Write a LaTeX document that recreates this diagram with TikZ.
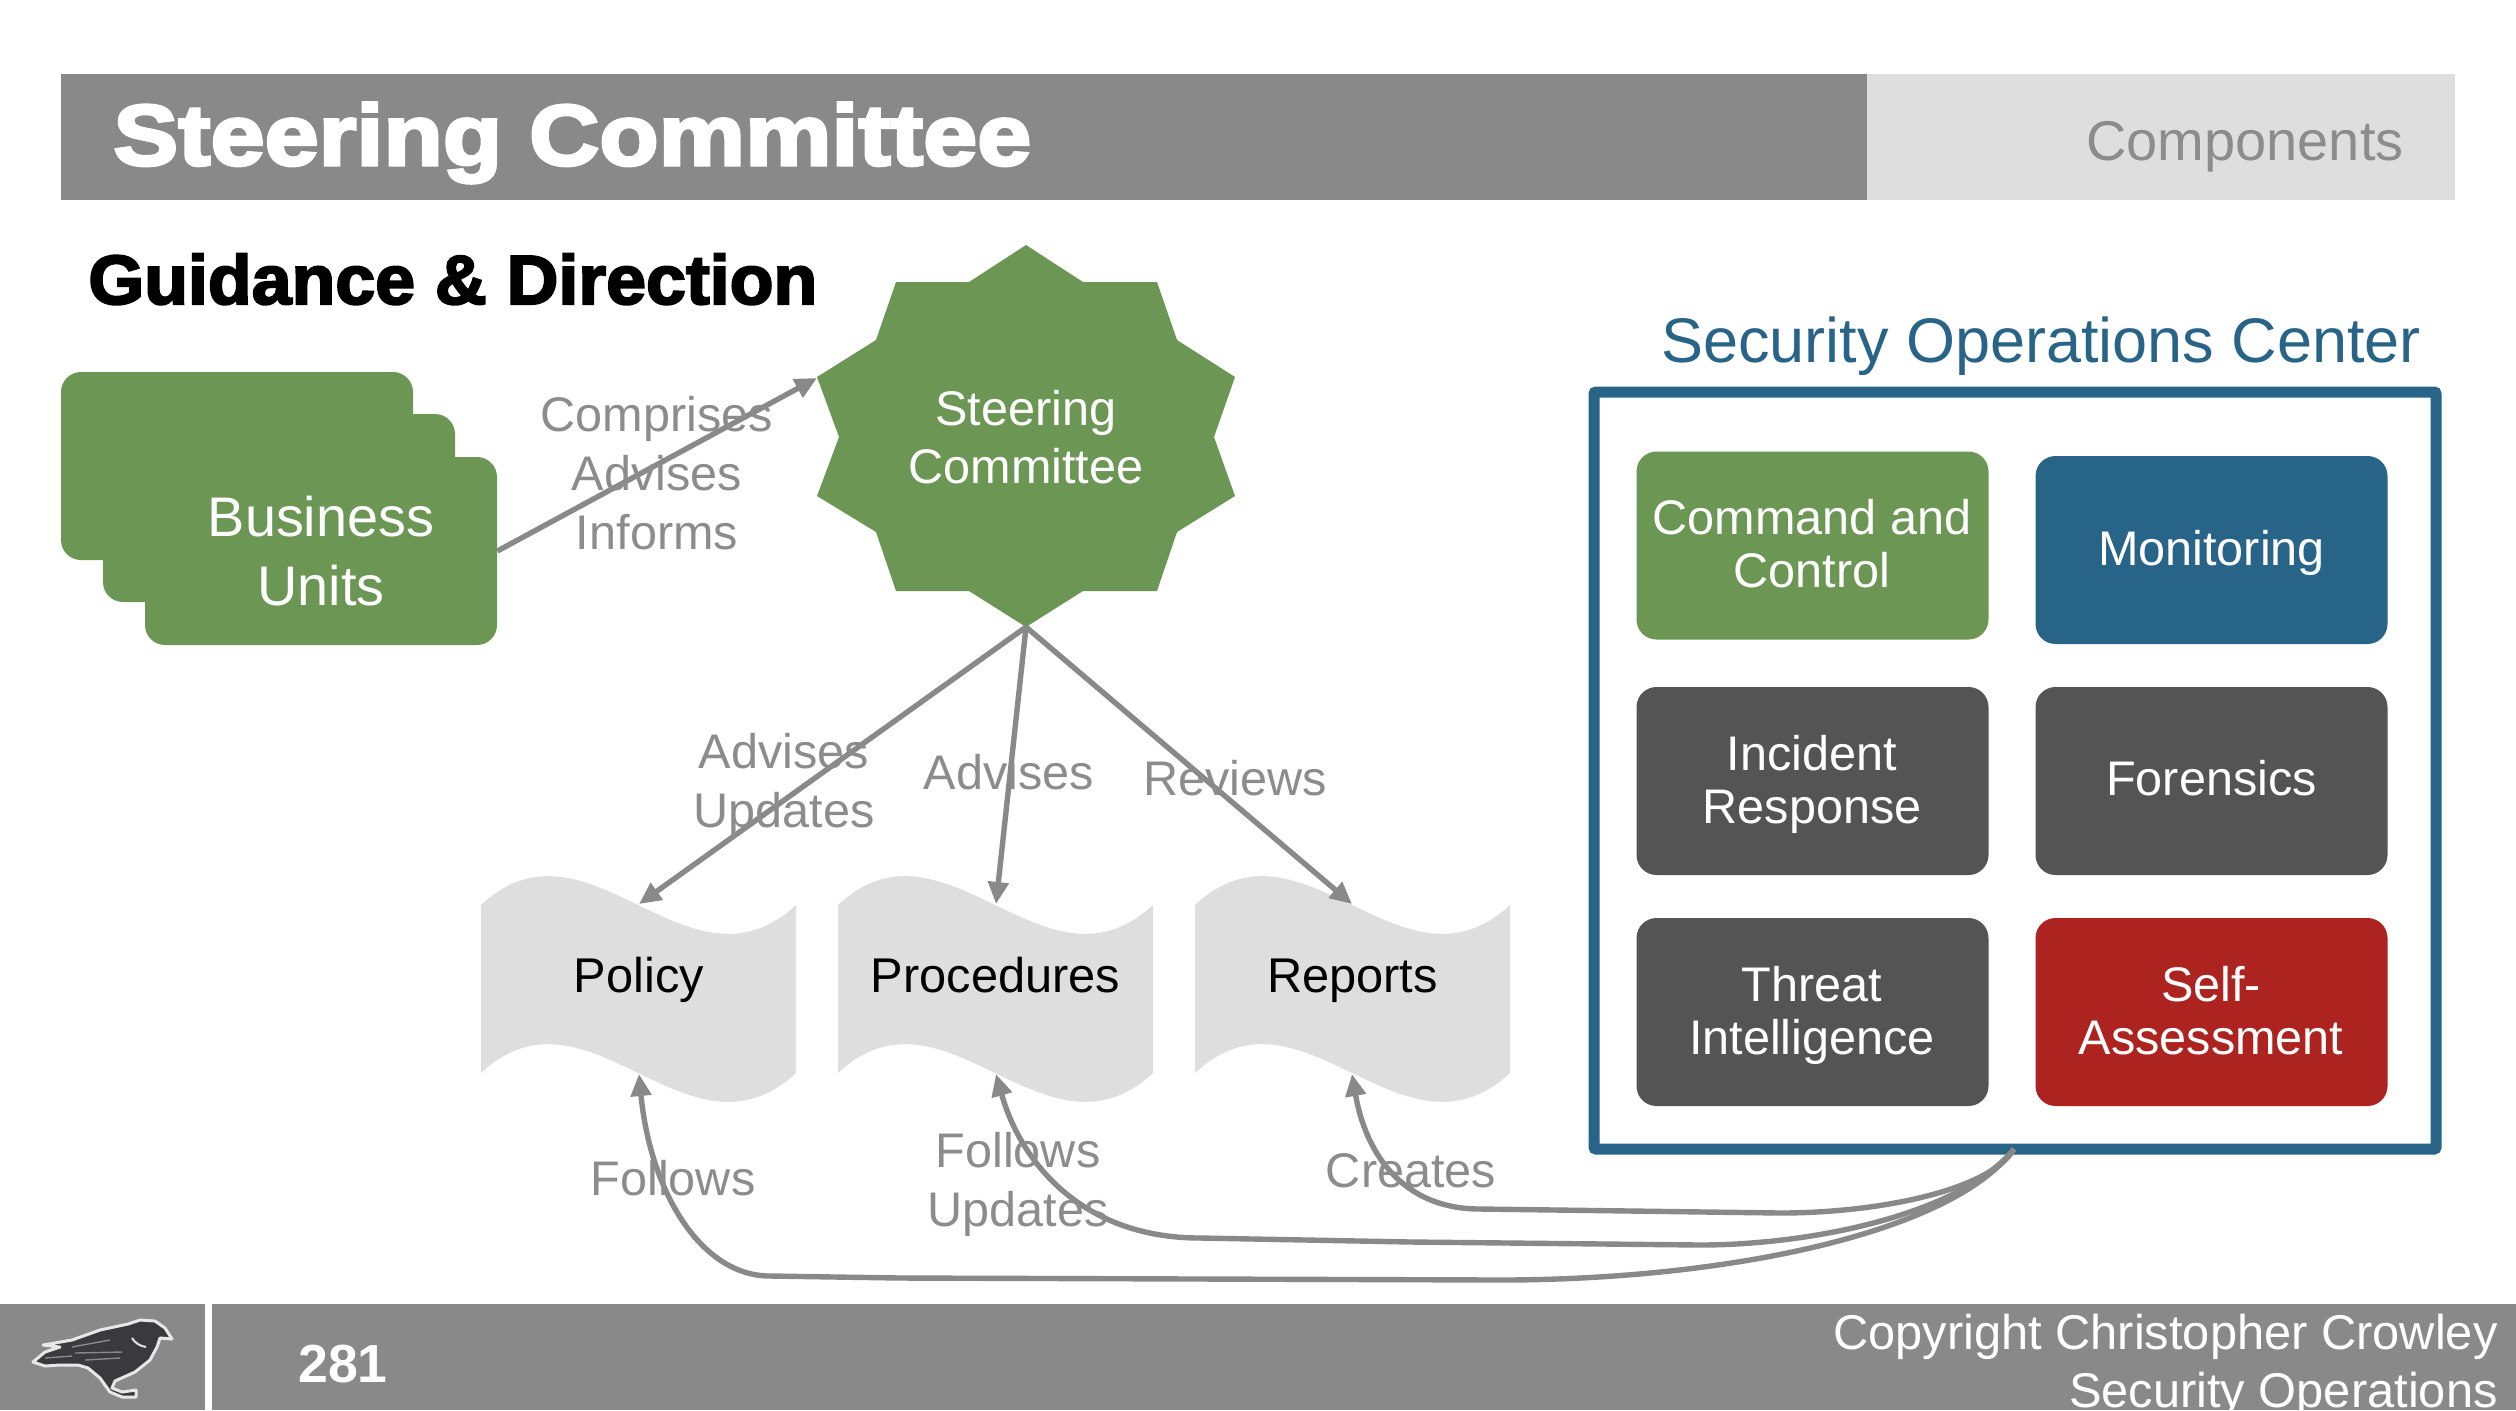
\documentclass[tikz,border=0pt]{standalone}
\usepackage{fontspec}
\setmainfont{Liberation Sans}
\newfontfamily\titlefont[FakeBold=3.6,FakeStretch=1.13]{Liberation Sans Bold}
\newfontfamily\headfont[FakeBold=3.0,FakeStretch=1.03]{Liberation Sans Bold}
\usetikzlibrary{arrows.meta}
\definecolor{bargray}{HTML}{898989}
\definecolor{lightgray2}{HTML}{DEDEDE}
\definecolor{labelgray}{HTML}{8C8C8C}
\definecolor{steergreen}{HTML}{6B9654}
\definecolor{socblue}{HTML}{286488}
\definecolor{darkbox}{HTML}{545454}
\definecolor{redbox}{HTML}{AD2320}
\definecolor{birddark}{HTML}{3A3A3E}
\tikzset{
  x=0.5pt,y=-0.5pt,
  tile/.style={rounded corners=10pt,minimum width=176pt,minimum height=94pt,inner sep=0pt},
  tiletext/.style={inner sep=0pt,align=center,text=white,font=\fontsize{24.3}{26.5}\selectfont},
  unitbox/.style={rounded corners=10pt,fill=steergreen,minimum width=176pt,minimum height=94pt,inner sep=0pt},
  doclabel/.style={anchor=base,font=\fontsize{24.4}{26.5}\selectfont,text=black,inner sep=0pt},
  edgelabel/.style={font=\fontsize{24.3}{29.5}\selectfont,text=labelgray,align=center,inner sep=0pt},
  flow/.style={draw=bargray,line width=2.7pt,-{Triangle[length=11pt,width=10pt]}},
  docshape/.style={fill=lightgray2},
}
\newcommand{\wave}[1]{%
  \begin{scope}[shift={(#1,0)}]
  \fill[docshape] (0,905) .. controls (107,805) and (207,1005) .. (315,905)
     -- (315,1073) .. controls (207,1173) and (107,973) .. (0,1073) -- cycle;
  \end{scope}}
\begin{document}
\begin{tikzpicture}
\useasboundingbox (0,0) rectangle (2516,1410);
\fill[white] (0,0) rectangle (2516,1410);
% header
\fill[bargray] (61,74) rectangle (1867,200);
\fill[lightgray2] (1867,74) rectangle (2455,200);
\node[anchor=base west,inner sep=0pt,text=white,font={\fontsize{43}{46}\titlefont}] (title) at (113,165) {Steering Committee};
\node[anchor=east,inner sep=0pt,text=labelgray,font=\fontsize{28}{30}\selectfont] (comp) at (2404,147) {Components};
\node[anchor=base west,inner sep=0pt,text=black,font={\fontsize{34.8}{38}\headfont}] (guid) at (88,304) {Guidance \& Direction};
% business units
\node[unitbox] (bu1) at (237,466) {};
\node[unitbox] (bu2) at (279,508) {};
\node[unitbox,align=center,text=white,font=\fontsize{27.9}{34.5}\selectfont] (bu3) at (321,551) {Business\\Units};
% star
\fill[steergreen] (1026,245) -- (1083,282) -- (1157,282) -- (1177,340) -- (1235,377) -- (1214,437) -- (1235,496) -- (1177,532) -- (1157,591) -- (1083,591) -- (1026,627) -- (969,591) -- (896,591) -- (876,532) -- (817,496) -- (839,437) -- (817,377) -- (876,340) -- (896,282) -- (969,282) -- cycle;
\node[align=center,inner sep=0pt,text=white,font=\fontsize{24.3}{29}\selectfont] (steer) at (1026,437) {Steering\\Committee};
\coordinate (starLeft) at (817,378);
\coordinate (starBottom) at (1026,627);
% documents
\wave{481}\wave{838}\wave{1195}
\node[doclabel] (policy) at (639,992) {Policy};
\node[doclabel] (proc) at (995.5,992) {Procedures};
\node[doclabel] (reports) at (1352.5,992) {Reports};
\coordinate (policyTop) at (639,904);
\coordinate (procTop) at (996,904);
\coordinate (reportsTop) at (1352,904);
\coordinate (policyBot) at (639,1074);
\coordinate (procBot) at (996,1074);
\coordinate (reportsBot) at (1352,1074);
% SOC
\node[anchor=center,inner sep=0pt,text=socblue,font=\fontsize{31.5}{34}\selectfont] (soctitle) at (2041,346) {Security Operations Center};
\draw[socblue,line width=5.5pt,rounded corners=1pt,fill=white] (1594,392) rectangle (2436,1149);
\coordinate (socBottom) at (2014,1149);
\node[tile,fill=steergreen] (cc) at (1812.5,545.5) {};
\node[tile,fill=socblue] (mon) at (2211.5,550) {};
\node[tile,fill=darkbox] (ir) at (1812.5,781) {};
\node[tile,fill=darkbox] (for) at (2211.5,781) {};
\node[tile,fill=darkbox] (ti) at (1812.5,1012) {};
\node[tile,fill=redbox] (sa) at (2211.5,1012) {};
\node[tiletext] (cct) at (1812,544) {Command and\\Control};
\node[tiletext] (mont) at (2211.5,553) {Monitoring};
\node[tiletext] (irt) at (1812,784) {Incident\\Response};
\node[tiletext] (fort) at (2211.5,778) {Forensics};
\node[tiletext] (tit) at (1812,1015) {Threat\\Intelligence};
\node[tiletext] (sat) at (2211,1010.5) {Self-\\Assessment};
% connectors
\draw[flow] (bu3.east) -- (starLeft);
\draw[flow] (starBottom) -- (policyTop);
\draw[flow] (starBottom) -- (procTop);
\draw[flow] (starBottom) -- (reportsTop);
\draw[flow] (socBottom) .. controls (1990,1190) and (1880,1213) .. (1780,1213) -- (1480,1209) .. controls (1400,1209) and (1365,1150) .. (reportsBot);
\draw[flow] (socBottom) .. controls (1960,1215) and (1810,1245) .. (1700,1245) -- (1411,1242) -- (1200,1238) .. controls (1080,1238) and (1020,1160) .. (procBot);
\draw[flow] (socBottom) .. controls (1950,1235) and (1720,1280) .. (1500,1280) -- (900,1278) -- (770,1276) .. controls (700,1276) and (650,1190) .. (policyBot);
% labels
\node[edgelabel] (l1) at (657,473) {Comprises\\Advises\\Informs};
\node[edgelabel] (l2) at (784,785) {Advises\\Updates};
\node[edgelabel] (l3) at (1009,772) {Advises};
\node[edgelabel] (l4) at (1235,778) {Reviews};
\node[edgelabel] (l5) at (673,1178) {Follows};
\node[edgelabel] (l6) at (1018,1184) {Follows\\Updates};
\node[edgelabel] (l7) at (1411,1171) {Creates};
% footer
\fill[bargray] (0,1304) rectangle (205,1410);
\fill[bargray] (212,1304) rectangle (2516,1410);
\node[inner sep=0pt,text=white,font=\bfseries\fontsize{26.8}{28}\selectfont] (page) at (343,1364) {281};
\node[anchor=east,align=right,inner sep=0pt,text=white,font=\fontsize{24.4}{29}\selectfont] (copy) at (2498,1366) {Copyright Christopher Crowley\\Security Operations};
% bird
\filldraw[birddark,draw=white!80!bargray,line width=1.5pt,line join=round]
  (33,1362) -- (45,1352) -- (60,1347) -- (43,1345) -- (72,1340) -- (100,1330) -- (128,1324) -- (140,1320) -- (155,1321) -- (165,1328) -- (172,1339) -- (160,1338) -- (157,1347) -- (150,1360) -- (135,1372) -- (115,1381) -- (112,1388) -- (122,1392) -- (136,1390) -- (136,1397) -- (122,1397) -- (110,1392) -- (100,1378) -- (88,1368) -- (78,1365) -- (60,1365) -- (45,1366) -- cycle;
\draw[bargray,line width=0.7pt] (72,1347) -- (110,1340);
\draw[bargray,line width=0.7pt] (75,1353) -- (122,1352);
\draw[bargray,line width=0.7pt] (85,1360) -- (120,1358);
\draw[bargray,line width=0.7pt] (45,1358) -- (72,1356);
\draw[white!75!bargray,line width=1pt] (132,1338) .. controls (135,1343) and (140,1346) .. (146,1347);
\end{tikzpicture}
\end{document}
